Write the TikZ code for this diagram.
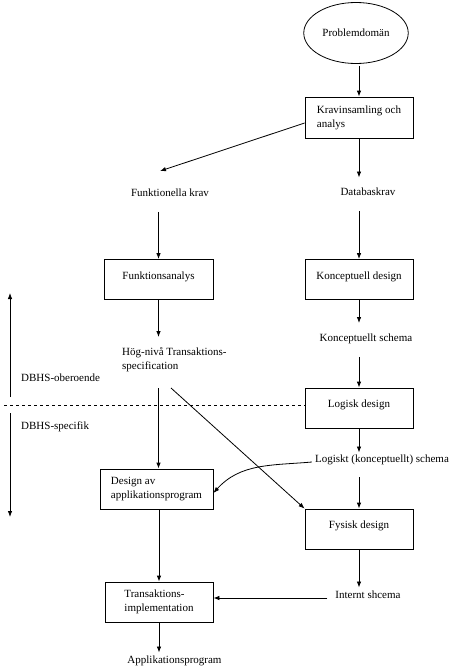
\documentclass[tikz,border=0pt]{standalone}
\usepackage{fontspec}
\setmainfont{Liberation Serif}
\usetikzlibrary{shapes.geometric,arrows.meta,calc}
\begin{document}
\begin{tikzpicture}[x=1pt,y=1pt,
  every node/.style={font=\fontsize{11}{14}\selectfont},
  arr/.style={-{Latex[length=6pt,width=4.5pt]},line width=0.8pt},
  boxnode/.style={draw,line width=0.8pt,minimum width=108pt,minimum height=40pt,align=left,inner sep=2pt},
  onebox/.style={boxnode,text height=7.5pt,text depth=8.5pt},
  lbl/.style={inner sep=0pt,text height=8pt,text depth=2.5pt},
  mlbl/.style={inner sep=0pt,align=left}]
\useasboundingbox (0,0) rectangle (452,-667);
\node[draw,line width=0.8pt,ellipse,minimum width=104pt,minimum height=61pt] (prob) at (356,-33) {Problemdomän};
\node[boxnode,minimum height=41pt] (krav) at (359,-117.5) {Kravinsamling och\\analys};
\node[lbl] (dbkrav) at (368,-193) {Databaskrav};
\node[lbl] (fkrav) at (170,-194) {Funktionella krav};
\node[onebox,minimum width=109pt] (funk) at (158.5,-279.5) {Funktionsanalys};
\node[onebox] (kdesign) at (359,-279.5) {Konceptuell design};
\node[mlbl,anchor=base west] (hog) at (122,-369.5) {Hög-nivå Transaktions-\\specification};
\node[lbl] (kschema) at (366,-339) {Konceptuellt schema};
\node[onebox] (logisk) at (359,-408) {Logisk design};
\node[lbl] (lschema) at (382,-460) {Logiskt (konceptuellt) schema};
\node[boxnode,minimum width=113pt] (design) at (156.5,-489) {Design av\\applikationsprogram};
\node[onebox] (fys) at (359,-529) {Fysisk design};
\node[lbl] (internt) at (368,-596) {Internt shcema};
\node[boxnode] (trans) at (159,-602) {Transaktions-\\implementation};
\node[lbl] (app) at (174.5,-661) {Applikationsprogram};
\node[lbl,anchor=west] (oberoende) at (21,-379) {DBHS-oberoende};
\node[lbl,anchor=west] (specifik) at (21,-427) {DBHS-specifik};
\coordinate (upstart) at (10,-397);
\coordinate (uptip) at (10,-293);
\coordinate (downstart) at (10,-413);
\coordinate (downtip) at (10,-517);
\coordinate (dashstart) at (4,-405);
% connectors
\draw[arr,shorten <=2pt] (krav.north |- prob.south) -- (krav.north);
\draw[arr,shorten >=10pt] (krav.south) -- (krav.south |- dbkrav.north);
\draw[arr] ([yshift=-5.5pt]krav.west) -- ([shift={(-10pt,17.5pt)}]fkrav.north);
\draw[arr,shorten <=12.5pt] (funk.north |- fkrav.south) -- (funk.north);
\draw[arr,shorten <=12.5pt] (kdesign.north |- dbkrav.south) -- (kdesign.north);
\draw[arr] (funk.south) -- ($(funk.south |- hog.base)+(0,32.5)$);
\draw[arr] ($(funk.south |- hog.base)+(0,-18.5)$) -- (funk.south |- design.north);
\draw[arr] ($(hog.base west)+(49,-18.5)$) -- (fys.north west);
\draw[arr,shorten >=10.5pt] (kdesign.south) -- (kdesign.south |- kschema.north);
\draw[arr,shorten <=12.5pt] (logisk.north |- kschema.south) -- (logisk.north);
\draw[arr,shorten >=2pt] (logisk.south) -- (logisk.south |- lschema.north);
\draw[arr,shorten <=12pt] (fys.north |- lschema.south) -- (fys.north);
\draw[arr] ([shift={(-3pt,-2pt)}]lschema.west) to[out=185,in=48] ([yshift=-4pt]design.east);
\draw[arr,shorten >=3pt] (fys.south) -- (fys.south |- internt.north);
\draw[arr,shorten <=8pt] ([yshift=-2pt]internt.west) -- ([yshift=-2pt]internt.west -| trans.east);
\draw[arr] (design.south -| trans.north) -- (trans.north);
\draw[arr,shorten >=3pt] (trans.south) -- (trans.south |- app.north);
\draw[arr] (upstart) -- (uptip);
\draw[arr] (downstart) -- (downtip);
\draw[dashed,line width=0.8pt] (dashstart) -- ([yshift=3pt]logisk.west);
\end{tikzpicture}
\end{document}
